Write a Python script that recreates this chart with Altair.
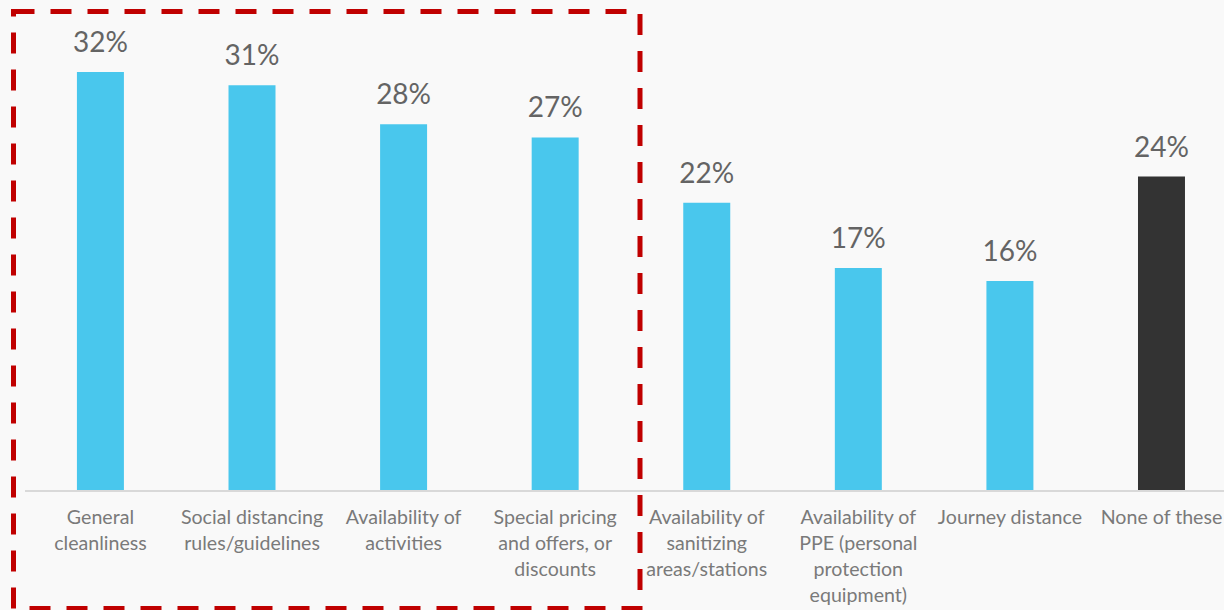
import altair as alt
import pandas as pd

categories = [
    "General|cleanliness",
    "Social distancing|rules/guidelines",
    "Availability of|activities",
    "Special pricing|and offers, or|discounts",
    "Availability of|sanitizing|areas/stations",
    "Availability of|PPE (personal|protection|equipment)",
    "Journey distance",
    "None of these",
]
values = [32, 31, 28, 27, 22, 17, 16, 24]
groups = ["factor"] * 7 + ["none"]
value_labels = ["32%", "31%", "28%", "27%", "22%", "17%", "16%", "24%"]

df = pd.DataFrame({
    "cat": categories,
    "value": values,
    "group": groups,
    "label": value_labels,
})

FONT = "Lato"

x = alt.X(
    "cat:N",
    sort=categories,
    axis=None,
    scale=alt.Scale(paddingInner=0.69, paddingOuter=0.30, align=0.571),
)
y = alt.Y("value:Q", axis=None, scale=alt.Scale(domain=[0, 37.52], nice=False, zero=True))

base = alt.Chart(df)

bars = base.mark_bar().encode(
    x=x,
    y=y,
    color=alt.Color(
        "group:N",
        scale=alt.Scale(domain=["factor", "none"], range=["#49C7ED", "#333333"]),
        legend=None,
    ),
)

vlabels = base.mark_text(
    font=FONT, fontSize=28, color="#646464", baseline="alphabetic", dy=-20
).encode(x=x, y=y, text="label:N")

clabels = base.mark_text(
    font=FONT, fontSize=19.6, color="#7a7a7a", baseline="middle", lineBreak="|", lineHeight=26
).encode(x=x, y=alt.value(518), text="cat:N")

axis_line = alt.Chart(pd.DataFrame({"a": [0]})).mark_rule(
    color="#d9d9d9", strokeWidth=2
).encode(x=alt.value(0), x2=alt.value(1199), y=alt.value(491))

box = alt.Chart(pd.DataFrame({"a": [0]})).mark_rect(
    fill="transparent", stroke="#C00000", strokeWidth=5, strokeDash=[21, 16]
).encode(x=alt.value(-11.5), x2=alt.value(615), y=alt.value(11.5), y2=alt.value(608.5))

chart = alt.layer(axis_line, bars, vlabels, clabels, box).properties(
    width=1199,
    height=490,
    background="#F9F9F9",
    autosize=alt.AutoSizeParams(type="none"),
    padding={"left": 25, "top": 0, "right": 0, "bottom": 120},
).configure_view(stroke=None)

chart.save("out.html", embed_options={"renderer": "svg", "actions": False})
